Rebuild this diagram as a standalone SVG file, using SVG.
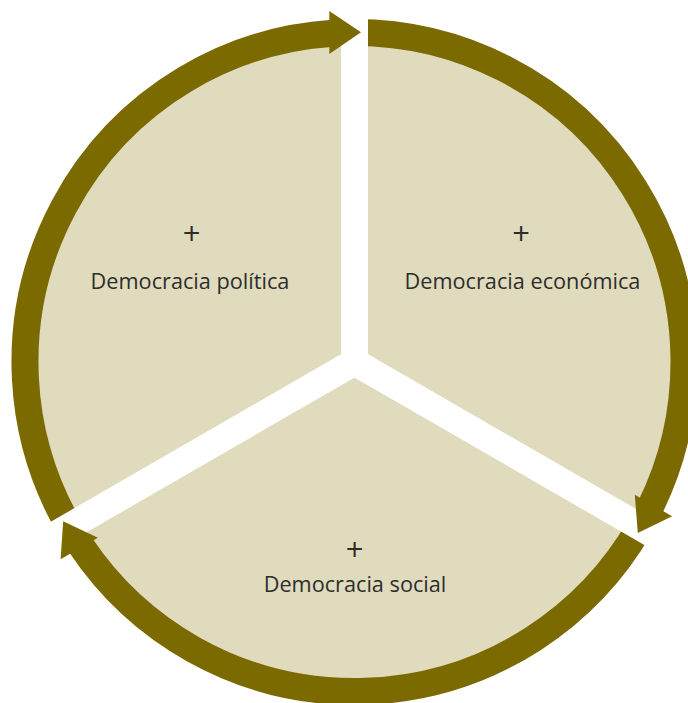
<svg xmlns="http://www.w3.org/2000/svg" width="688" height="703" viewBox="0 0 688 703">
<style>
.fill{fill:#e0dbbd}
.ring{fill:none;stroke:#7b6a00;stroke-width:27}
.head{fill:#7b6a00}
.gap{stroke:#fff;stroke-width:27;stroke-linecap:butt}
.lbl{font-family:"Open Sans","Noto Sans",sans-serif;font-size:21.7px;fill:#2d2d2d;text-anchor:middle}
.plus{font-family:"Open Sans","Noto Sans",sans-serif;font-size:31px;fill:#2d2d2d;text-anchor:middle}
</style>
<rect width="688" height="703" fill="#fff"/>
<circle class="fill" cx="354.5" cy="362" r="320"/>
<g id="connectors">
<path class="ring" d="M69.14,526.75 A329.5,329.5 0 0 1 332.66,33.22"/>
<path class="ring" d="M354.5,32.5 A329.5,329.5 0 0 1 650.14,507.48"/>
<path class="ring" d="M639.86,526.75 A329.5,329.5 0 0 1 80.53,545.06"/>
</g>
<g id="dividers">
<line class="gap" x1="354.5" y1="362" x2="354.5" y2="0"/>
<line class="gap" x1="354.5" y1="362" x2="700.9" y2="562"/>
<line class="gap" x1="354.5" y1="362" x2="8.1" y2="562"/>
</g>
<g id="arrowheads">
<polygon class="head" points="329.3,11 361,32.3 329.3,54"/>
<polygon class="head" points="672.1,516.2 637.8,533 634.8,494.7"/>
<polygon class="head" points="60.6,559.3 63.2,521.2 97.9,537.8"/>
</g>
<g id="node-politica">
<text class="plus" x="191.5" y="245">+</text>
<text class="lbl" x="190" y="289">Democracia política</text>
</g>
<g id="node-economica">
<text class="plus" x="521" y="245">+</text>
<text class="lbl" x="522.5" y="289">Democracia económica</text>
</g>
<g id="node-social">
<text class="plus" x="354.5" y="561">+</text>
<text class="lbl" x="355" y="592">Democracia social</text>
</g>
</svg>
